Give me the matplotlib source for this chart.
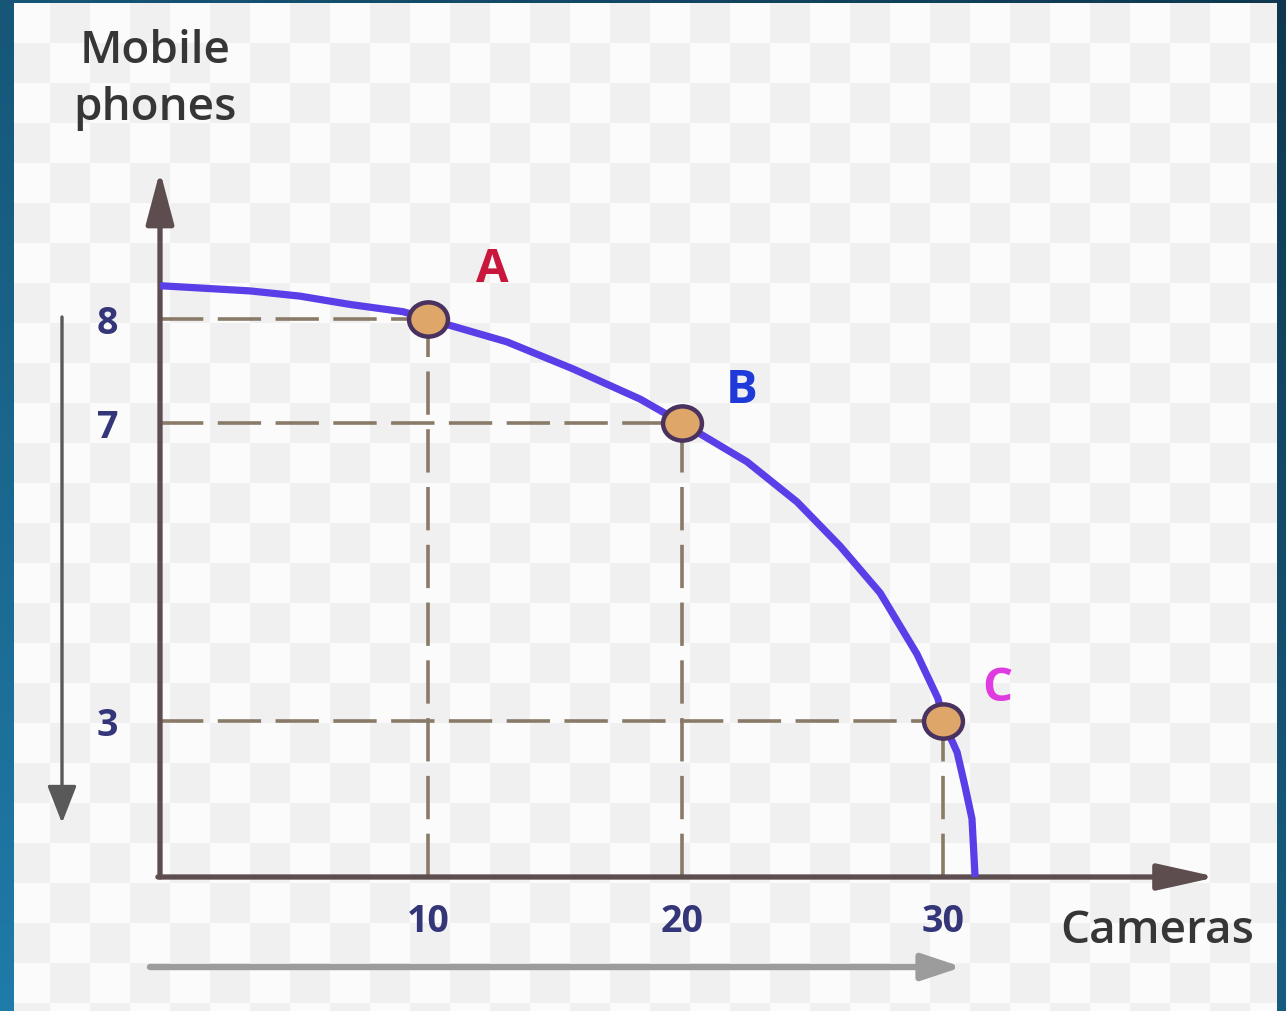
import numpy as np
import matplotlib
matplotlib.use("Agg")
import matplotlib.pyplot as plt
from matplotlib.colors import LinearSegmentedColormap
from matplotlib.markers import MarkerStyle
from matplotlib.patches import Rectangle
from matplotlib.transforms import Affine2D

# production possibility frontier: cameras (x) against mobile phones (y)
cameras = [0, 3.36, 5.22, 7.09, 9.07, 10, 13.11, 15.71, 18.35, 20, 22.49, 24.41, 26.05,
           27.59, 29.00, 29.81, 30, 30.54, 30.84, 31.11, 31.23]
phones = [8.32, 8.27, 8.22, 8.14, 8.07, 8, 7.78, 7.52, 7.23, 7, 6.48, 5.94, 5.35,
          4.72, 3.90, 3.30, 3, 2.40, 1.75, 1.12, 0]

point_names = ["A", "B", "C"]
point_cameras = [10, 20, 30]
point_phones = [8, 7, 3]
point_colors = ["#c8163c", "#1f3ad8", "#e03be0"]

x_ticks = [10, 20, 30]
y_ticks = [8, 7, 3]

# the sketch axes are not evenly spaced: piecewise-linear scale (value -> pixel offset)
x_knots = [-30, 0, 10, 20, 30, 60]
x_pix = [-804, 0, 268, 522, 783, 1566]
y_knots = [-10, 0, 3, 7, 8, 20]
y_pix = [-520, 0, 156, 454, 558, 1806]

W, H = 1286, 1012
fig = plt.figure(figsize=(W / 100, H / 100), dpi=100)

# backdrop: dark blue gradient frame, checkered panel
bg = fig.add_axes([0, 0, 1, 1])
bg.set_xlim(0, W)
bg.set_ylim(H, 0)
bg.axis("off")
yy, xx = np.mgrid[0:1:200j, 0:1:200j]
grad = (1 - xx) * 0.45 + yy * 0.55
frame_cmap = LinearSegmentedColormap.from_list("frame", ["#0f3850", "#1f7ba8"])
bg.imshow(grad, extent=(0, W, H, 0), cmap=frame_cmap, aspect="auto", zorder=0)

panel = Rectangle((14, 4), 1263, 1010, facecolor="#fbfbfb", edgecolor="none", zorder=1)
bg.add_patch(panel)
rows, cols = 26, 32
checker = (np.add.outer(np.arange(rows), np.arange(cols)) % 2).astype(float)
check_cmap = LinearSegmentedColormap.from_list("check", ["#fbfbfb", "#f0f0f0"])
im = bg.imshow(checker, extent=(10, 10 + cols * 40, 4 + rows * 40, 4), cmap=check_cmap,
               aspect="auto", interpolation="nearest", zorder=2)
im.set_clip_path(panel)

# axis titles and direction arrows
title_font = dict(fontsize=33, family="Open Sans", fontweight="semibold", color="#363636")
bg.text(155, 80, "Mobile\nphones", ha="center", va="center", linespacing=1.35, zorder=3,
        **title_font)
bg.text(1157, 932, "Cameras", ha="center", va="center", zorder=3, **title_font)
bg.annotate("", xy=(62, 824), xytext=(62, 318),
            arrowprops=dict(arrowstyle="-|>,head_length=2.3,head_width=0.9", mutation_scale=10,
                            lw=2.4, color="#595959", shrinkA=0, shrinkB=0), zorder=3)
bg.annotate("", xy=(962, 968), xytext=(150, 968),
            arrowprops=dict(arrowstyle="-|>,head_length=2.4,head_width=0.8", mutation_scale=10,
                            lw=4.6, color="#9c9c9c", shrinkA=0, shrinkB=0), zorder=3)

# main plotting axes
ax = fig.add_axes([160 / W, (H - 878) / H, 1057 / W, 706 / H])
ax.patch.set_alpha(0)
ax.set_xscale("function", functions=(lambda v: np.interp(v, x_knots, x_pix),
                                     lambda p: np.interp(p, x_pix, x_knots)))
ax.set_yscale("function", functions=(lambda v: np.interp(v, y_knots, y_pix),
                                     lambda p: np.interp(p, y_pix, y_knots)))
ax.set_xlim(0, np.interp(1057, x_pix, x_knots))
ax.set_ylim(0, np.interp(706, y_pix, y_knots))
for s in ax.spines.values():
    s.set_visible(False)

axis_col = "#5e4d4f"
ax.annotate("", xy=(1, 0), xytext=(-0.002, 0), xycoords="axes fraction",
            arrowprops=dict(arrowstyle="-|>,head_length=3.6,head_width=0.8", mutation_scale=10,
                            lw=3.8, color=axis_col, shrinkA=0, shrinkB=0),
            annotation_clip=False, zorder=2)
ax.annotate("", xy=(0, 1), xytext=(0, 0), xycoords="axes fraction",
            arrowprops=dict(arrowstyle="-|>,head_length=3.2,head_width=0.85", mutation_scale=10,
                            lw=3.8, color=axis_col, shrinkA=0, shrinkB=0),
            annotation_clip=False, zorder=2)

# dashed guides from each point to the axes
for px, py in zip(point_cameras, point_phones):
    ax.plot([0, px], [py, py], color="#8a7a68", lw=2.6, ls=(0, (12, 4)), zorder=1)
    ax.plot([px, px], [0, py], color="#8a7a68", lw=2.6, ls=(0, (12, 4)), zorder=1)

ax.plot(cameras, phones, color="#5a3fe8", lw=5.2, solid_capstyle="butt",
        solid_joinstyle="round", clip_on=False, zorder=3)

dot = MarkerStyle("o", transform=Affine2D().scale(1.0, 0.88))
ax.plot(point_cameras, point_phones, ls="none", marker=dot, ms=28, mfc="#dea669",
        mec="#49325f", mew=3.2, zorder=4)

offsets = [(46, 36), (43, 24), (39, 24)]
for name, px, py, c, off in zip(point_names, point_cameras, point_phones, point_colors, offsets):
    ax.annotate(name, (px, py), xytext=off, textcoords="offset points", ha="center",
                va="center", fontsize=34, fontweight="bold", family="Open Sans", color=c,
                zorder=5)

tick_font = dict(fontsize=27, fontweight="bold", family="Open Sans", color="#35357a")
ax.set_xticks(x_ticks)
ax.set_xticklabels([str(t) for t in x_ticks], **tick_font)
ax.set_yticks(y_ticks)
ax.set_yticklabels([str(t) for t in y_ticks], **tick_font)
ax.tick_params(axis="x", length=0, pad=18)
ax.tick_params(axis="y", length=0, pad=30)
ax.minorticks_off()

fig.savefig("out.png", dpi=100)
